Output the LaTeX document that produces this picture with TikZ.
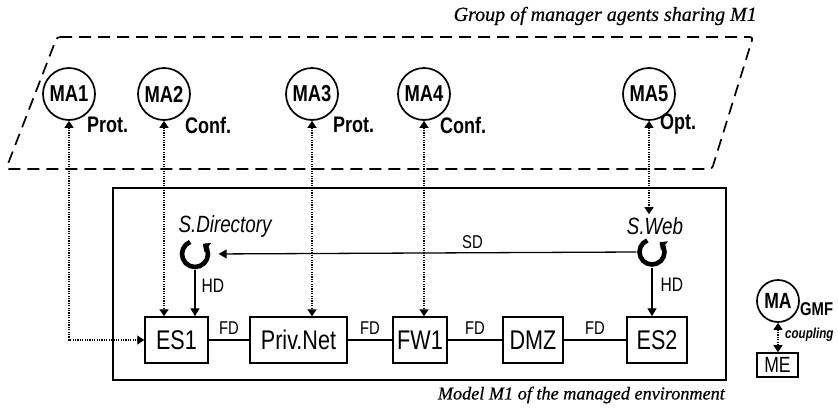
\documentclass[tikz,border=0pt]{standalone}
\usepackage{fontspec}
\setmainfont{Liberation Serif}
\newfontfamily\nsans[FakeStretch=0.8]{Liberation Sans}
\newfontfamily\capserif[FakeBold=0.6]{Liberation Serif}
\usetikzlibrary{arrows.meta,calc}
\begin{document}
\begin{tikzpicture}[x=1pt,y=-1pt,
  agent/.style={circle,draw,line width=1.7pt,minimum size=52pt,inner sep=0pt,font=\nsans\bfseries\fontsize{23}{23}\selectfont},
  elem/.style={draw,line width=1.5pt,minimum height=46pt,inner sep=0pt,font=\nsans\fontsize{27}{27}\selectfont},
  rolelab/.style={anchor=west,inner sep=0pt,font=\nsans\bfseries\fontsize{22.5}{22}\selectfont},
  linklab/.style={inner sep=0pt,font=\nsans\fontsize{18.5}{18}\selectfont},
  hdlab/.style={inner sep=0pt,font=\nsans\fontsize{19.5}{19}\selectfont},
  svclab/.style={inner sep=0pt,font=\nsans\itshape\fontsize{23.5}{23}\selectfont},
  dotarrow/.style={line width=1.3pt,dash pattern=on 1.3pt off 1.1pt,{Triangle[length=7pt,width=9pt]}-{Triangle[length=7pt,width=9pt]}},
  solarrow/.style={line width=1.3pt,-{Triangle[length=8pt,width=9pt]}},
  loopsym/.style={line width=4.6pt,-{Triangle[length=6pt,width=11pt]}},
  loopnode/.style={circle,minimum size=31pt,inner sep=0pt},
  fdline/.style={line width=1.5pt},
  caption/.style={anchor=east,inner sep=0pt,font=\capserif\itshape\fontsize{20}{20}\selectfont},
]
\useasboundingbox (0,0) rectangle (838,407);

% group of manager agents
\draw[line width=1.7pt,dash pattern=on 12pt off 7pt,rounded corners=3pt]
  (57,37) -- (753,37) -- (712,169) -- (6,169) -- cycle;
\node[caption] (title) at (757,16) {Group of manager agents sharing M1};

% model box
\node[draw,line width=1.4pt,minimum width=613pt,minimum height=192pt,inner sep=0pt] (model) at (419.5,284) {};
\node[caption,font=\capserif\itshape\fontsize{18.2}{18}\selectfont] (mcap) at (725,395) {Model M1 of the managed environment};

% agents
\node[agent] (ma1) at (69,94) {MA1};
\node[agent] (ma2) at (164,94) {MA2};
\node[agent] (ma3) at (312,94) {MA3};
\node[agent] (ma4) at (424,94) {MA4};
\node[agent] (ma5) at (649,94) {MA5};
\node[rolelab] (l1) at (87,125) {Prot.};
\node[rolelab] (l2) at (185,125) {Conf.};
\node[rolelab] (l3) at (333,125) {Prot.};
\node[rolelab] (l4) at (440,125) {Conf.};
\node[rolelab] (l5) at (660,124) {Opt.};

% elements
\node[elem,minimum width=63pt] (es1) at (176.5,340) {ES1};
\node[elem,minimum width=97pt] (priv) at (298.5,340) {Priv.Net};
\node[elem,minimum width=54pt] (fw1) at (420,340) {FW1};
\node[elem,minimum width=60pt] (dmz) at (533,340) {DMZ};
\node[elem,minimum width=60pt] (es2) at (657,340) {ES2};

\draw[fdline] (es1) -- node[linklab,above=5pt] {FD} (priv);
\draw[fdline] (priv) -- node[linklab,above=5pt] {FD} (fw1);
\draw[fdline] (fw1) -- node[linklab,above=5pt] {FD} (dmz);
\draw[fdline] (dmz) -- node[linklab,above=5pt] {FD} (es2);

% services
\node[svclab] (sdtext) at (225,226) {S.Directory};
\node[svclab,inner sep=3pt] (swtext) at (655,226) {S.Web};
\node[loopnode] (sdloop) at (195,254) {};
\node[loopnode] (swloop) at (652,252) {};
\draw[loopsym] ($(sdloop.center)+(112:13pt)$) arc[start angle=112,end angle=412,radius=13pt];
\draw[loopsym] ($(swloop.center)+(112:12.5pt)$) arc[start angle=112,end angle=412,radius=12.5pt];

\draw[solarrow,shorten >=8pt] (swloop.west) -- node[linklab,pos=0.385,above=3pt] {SD} (sdloop.east);
\draw[solarrow] (sdloop.south) -- node[hdlab,pos=0.35,right=6pt] {HD} (sdloop.south |- es1.north);
\draw[solarrow] (swloop.south) -- node[hdlab,pos=0.35,right=8pt] {HD} (swloop.south |- es2.north);

% agent couplings
\draw[dotarrow] (ma1.south) |- (es1.west);
\draw[dotarrow] (ma2.south) -- (ma2.south |- es1.north);
\draw[dotarrow] (ma3.south) -- (ma3.south |- priv.north);
\draw[dotarrow] (ma4.south) -- (ma4.south |- fw1.north);
\draw[dotarrow] (ma5.south) -- (ma5.south |- swtext.north);

% legend
\node[agent,minimum size=42pt,font=\nsans\bfseries\fontsize{22}{22}\selectfont] (gma) at (778,301) {MA};
\node[anchor=west,inner sep=0pt,font=\nsans\bfseries\fontsize{18.5}{18}\selectfont] (gmf) at (800,309) {GMF};
\node[draw,line width=1.6pt,minimum width=41pt,minimum height=24pt,inner sep=0pt,font=\nsans\fontsize{22}{22}\selectfont] (me) at (777.5,365) {ME};
\draw[dotarrow] (gma.south) -- (gma.south |- me.north);
\node[anchor=west,inner sep=0pt,font=\nsans\bfseries\itshape\fontsize{14.5}{14}\selectfont] (cpl) at (785,335) {coupling};
\end{tikzpicture}
\end{document}
